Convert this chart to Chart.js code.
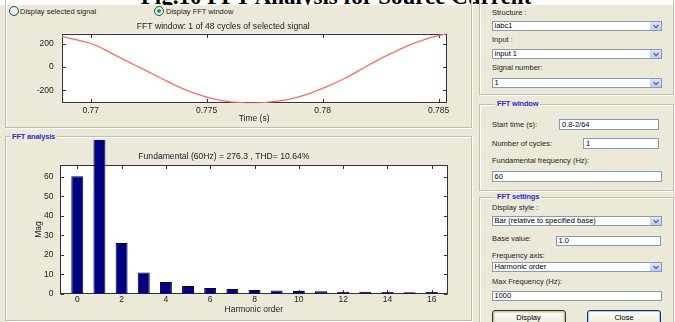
<!DOCTYPE html>
<html>
<head>
<meta charset="utf-8">
<title>FFT Analysis</title>
<script src="https://cdn.jsdelivr.net/npm/chart.js@4.4.0/dist/chart.umd.min.js"></script>
<style>
  html, body { margin: 0; padding: 0; }
  body {
    width: 675px; height: 322px; overflow: hidden; position: relative;
    background: #ece9d8; font-family: 'Liberation Sans', Arial, sans-serif;
  }
  #cap { position: absolute; left: 0; top: 0; width: 675px; height: 4.5px; background: #fff; overflow: hidden; }
  #cap span {
    position: absolute; left: 0; width: 672px; top: -14.8px; text-align: center;
    font: bold 23px/23px 'Liberation Serif', 'Times New Roman', serif; color: #000;
  }
  .grp {
    position: absolute; box-sizing: border-box;
    border: 1px solid #c2bfae; box-shadow: inset 1px 1px 0 #fff, 1px 1px 0 #fff;
  }
  .gt {
    position: absolute; font-size: 7.5px; line-height: 9px; color: #3030c8;
    background: #ece9d8; padding: 0 2px; white-space: nowrap; font-weight: bold; letter-spacing: -0.2px;
  }
  .t { position: absolute; font-size: 7.5px; line-height: 9px; color: #1e1e1e; white-space: nowrap; }
  .box {
    position: absolute; box-sizing: border-box; background: #fff; border: 1px solid #7f9db9;
    font-size: 7.5px; color: #000; padding-left: 2px; white-space: nowrap; overflow: hidden;
  }
  .arr {
    position: absolute; right: 0; top: 0; bottom: 0; width: 10px;
    background: linear-gradient(#dde7fd, #b9cdf6); border-left: 1px solid #c9d6f3;
  }
  .arr svg { position: absolute; left: 2px; top: 2px; }
  .radio {
    position: absolute; width: 8px; height: 8px; border-radius: 50%;
    border: 1px solid #1c5180; background: radial-gradient(#ffffff, #dcdcd4);
  }
  .radio.on::after {
    content: ''; position: absolute; left: 2px; top: 2px; width: 4px; height: 4px;
    border-radius: 50%; background: #21a121;
  }
  .btn {
    position: absolute; box-sizing: border-box; border: 1px solid #003c74; border-radius: 3px;
    background: linear-gradient(#fefefe, #ece9d8); font-size: 7.5px; color: #000; text-align: center;
  }
  canvas { position: absolute; left: 0; }
</style>
</head>
<body>

<div id="cap"><span>Fig.10 FFT Analysis for Source Current</span></div>

<!-- left: signal panel -->
<div class="grp" style="left:5px; top:-6px; width:467px; height:134px;"></div>
<div class="radio" style="left:9px; top:6px;"></div>
<div class="t" style="left:20px; top:6.5px;">Display selected signal</div>
<div class="radio on" style="left:154px; top:6px;"></div>
<div class="t" style="left:166px; top:6.5px;">Display FFT window</div>

<!-- left: FFT analysis panel -->
<div class="grp" style="left:5px; top:136px; width:467px; height:185px;"></div>
<div class="gt" style="left:10px; top:131.5px;">FFT analysis</div>

<!-- right: signal selection -->
<div class="grp" style="left:479px; top:-10px; width:195px; height:105px;"></div>
<div class="t" style="left:492px; top:7.8px;">Structure :</div>
<div class="box" style="left:491.5px; top:21px; width:170px; height:10px; line-height:8px;">iabc1<div class="arr"><svg width="6" height="5"><polyline points="0.5,1 3,3.6 5.5,1" fill="none" stroke="#4d6185" stroke-width="1.2"/></svg></div></div>
<div class="t" style="left:492px; top:34.5px;">Input :</div>
<div class="box" style="left:491.5px; top:49.3px; width:170px; height:10px; line-height:8px;">input 1<div class="arr"><svg width="6" height="5"><polyline points="0.5,1 3,3.6 5.5,1" fill="none" stroke="#4d6185" stroke-width="1.2"/></svg></div></div>
<div class="t" style="left:492px; top:63.2px;">Signal number:</div>
<div class="box" style="left:491.5px; top:77.7px; width:170px; height:10px; line-height:8px;">1<div class="arr"><svg width="6" height="5"><polyline points="0.5,1 3,3.6 5.5,1" fill="none" stroke="#4d6185" stroke-width="1.2"/></svg></div></div>

<!-- right: FFT window -->
<div class="grp" style="left:479px; top:103.5px; width:195px; height:87px;"></div>
<div class="gt" style="left:495px; top:99px;">FFT window</div>
<div class="t" style="left:492px; top:119.5px;">Start time (s):</div>
<div class="box" style="left:559px; top:119px; width:100px; height:11px; line-height:9px;">0.8-2/64</div>
<div class="t" style="left:492px; top:138.5px;">Number of cycles:</div>
<div class="box" style="left:583px; top:138px; width:76px; height:11px; line-height:9px;">1</div>
<div class="t" style="left:492px; top:155.5px;">Fundamental frequency (Hz):</div>
<div class="box" style="left:491.5px; top:171px; width:170px; height:11px; line-height:9px;">60</div>

<!-- right: FFT settings -->
<div class="grp" style="left:479px; top:196.5px; width:195px; height:140px;"></div>
<div class="gt" style="left:495px; top:192px;">FFT settings</div>
<div class="t" style="left:492px; top:202.8px;">Display style :</div>
<div class="box" style="left:491.5px; top:215.7px; width:170px; height:10px; line-height:8px;">Bar (relative to specified base)<div class="arr"><svg width="6" height="5"><polyline points="0.5,1 3,3.6 5.5,1" fill="none" stroke="#4d6185" stroke-width="1.2"/></svg></div></div>
<div class="t" style="left:492px; top:233.5px;">Base value:</div>
<div class="box" style="left:555.5px; top:235.5px; width:105px; height:10.5px; line-height:8.5px;">1.0</div>
<div class="t" style="left:492px; top:250.5px;">Frequency axis:</div>
<div class="box" style="left:491.5px; top:262.3px; width:170px; height:10px; line-height:8px;">Harmonic order<div class="arr"><svg width="6" height="5"><polyline points="0.5,1 3,3.6 5.5,1" fill="none" stroke="#4d6185" stroke-width="1.2"/></svg></div></div>
<div class="t" style="left:492px; top:277.2px;">Max Frequency (Hz):</div>
<div class="box" style="left:491.5px; top:290.7px; width:170px; height:10px; line-height:8px;">1000</div>
<div class="btn" style="left:491.5px; top:310px; width:74px; height:15px; line-height:13px; box-shadow: inset 0 0 0 1.5px #f0c060;">Display</div>
<div class="btn" style="left:587px; top:310px; width:74px; height:15px; line-height:13px; box-shadow: inset 0 0 0 1px #b0c6ee;">Close</div>

<canvas id="wave" width="472" height="110" style="top:18px;"></canvas>
<canvas id="spectrum" width="472" height="178" style="top:140px;"></canvas>

<script>
// Time window samples (s) and current (A) over one fundamental cycle
const timeSamples = [
  0.76875, 0.77014, 0.77086, 0.77158, 0.77230, 0.77302, 0.77374, 0.77446,
  0.77517, 0.77589, 0.77661, 0.77704, 0.77805, 0.77877, 0.77948, 0.78020,
  0.78092, 0.78164, 0.78236, 0.78307, 0.78379, 0.78451, 0.78530
];
const currentSamples = [
  262, 192, 121, 48, -23, -95, -167, -224,
  -267, -296, -308, -310, -293, -267, -224, -167,
  -101, -23, 57, 126, 192, 244, 285
];
const timeTicks = [0.77, 0.775, 0.78, 0.785];
const timeTickLabels = ['0.77', '0.775', '0.78', '0.785'];
const currentTicks = [-200, 0, 200];
const currentTickLabels = ['-200', '0', '200'];

// Harmonic spectrum (magnitude relative to base 1.0)
const harmonicOrders = [0, 1, 2, 3, 4, 5, 6, 7, 8, 9, 10, 11, 12, 13, 14, 15, 16];
const harmonicMag = [60.3, 276.3, 26.1, 10.9, 6.0, 3.9, 2.9, 2.4, 1.9, 1.6, 1.4, 1.2, 1.05, 1.0, 0.9, 0.75, 0.85];
const harmonicTicks = [0, 2, 4, 6, 8, 10, 12, 14, 16];
const magTicks = [0, 10, 20, 30, 40, 50, 60];

const FONT = "'Liberation Sans', Arial, sans-serif";
const TXT = '#222';

// White plot area, axes box and inward tick marks on all four sides
const axesFrame = {
  id: 'axesFrame',
  beforeDraw(chart) {
    const { ctx, chartArea: a } = chart;
    ctx.save();
    ctx.fillStyle = '#fff';
    ctx.fillRect(a.left, a.top, a.right - a.left, a.bottom - a.top);
    ctx.restore();
  },
  beforeDatasetsDraw(chart) {
    const { ctx, chartArea: a, scales: { x, y } } = chart;
    const L = Math.round(a.left) + 0.5, R = Math.round(a.right) - 0.5;
    const T = Math.round(a.top) + 0.5, B = Math.round(a.bottom) - 0.5;
    const len = 3.5;
    ctx.save();
    ctx.strokeStyle = '#333';
    ctx.lineWidth = 1;
    ctx.strokeRect(L, T, R - L, B - T);
    ctx.beginPath();
    x.ticks.forEach(t => {
      const px = Math.round(x.getPixelForValue(t.value)) + 0.5;
      ctx.moveTo(px, B); ctx.lineTo(px, B - len);
      ctx.moveTo(px, T); ctx.lineTo(px, T + len);
    });
    y.ticks.forEach(t => {
      const py = Math.round(y.getPixelForValue(t.value)) + 0.5;
      ctx.moveTo(L, py); ctx.lineTo(L + len, py);
      ctx.moveTo(R, py); ctx.lineTo(R - len, py);
    });
    ctx.stroke();
    ctx.restore();
  }
};

const common = {
  responsive: false,
  animation: false,
  devicePixelRatio: 1,
  events: []
};
const noGrid = { display: false, drawTicks: false, tickLength: 0 };

new Chart(document.getElementById('wave'), {
  type: 'line',
  data: {
    datasets: [{
      data: timeSamples.map((t, i) => ({ x: t, y: currentSamples[i] })),
      borderColor: '#ff6a6a',
      borderWidth: 1.3,
      pointRadius: 0,
      cubicInterpolationMode: 'monotone',
      fill: false
    }]
  },
  options: {
    ...common,
    layout: { padding: { left: 0, right: 25.5, top: 0, bottom: 0 } },
    plugins: {
      legend: { display: false },
      tooltip: { enabled: false },
      title: {
        display: true,
        text: 'FFT window: 1 of 48 cycles of selected signal',
        color: TXT,
        font: { family: FONT, size: 8.6, weight: 'normal', lineHeight: 1.2 },
        padding: { top: 3, bottom: 2.2 }
      }
    },
    scales: {
      x: {
        type: 'linear', min: 0.76875, max: 0.78534,
        grid: noGrid, border: { display: false },
        afterBuildTicks: s => { s.ticks = timeTicks.map(v => ({ value: v })); },
        afterFit: s => { s.height = 24.7; },
        ticks: {
          autoSkip: false, maxRotation: 0, padding: 2.3, color: TXT,
          font: { family: FONT, size: 8.5, lineHeight: 1.2 },
          callback: (v, i) => timeTickLabels[i]
        },
        title: {
          display: true, text: 'Time (s)', color: TXT,
          font: { family: FONT, size: 8.5, lineHeight: 1.2 },
          padding: { top: 0, bottom: 4.6 }
        }
      },
      y: {
        min: -312, max: 287,
        grid: noGrid, border: { display: false },
        afterBuildTicks: s => { s.ticks = currentTicks.map(v => ({ value: v })); },
        afterFit: s => { s.width = 61.7; },
        ticks: {
          autoSkip: false, padding: 8, color: TXT,
          font: { family: FONT, size: 8.5, lineHeight: 1.2 },
          callback: (v, i) => currentTickLabels[i]
        }
      }
    }
  },
  plugins: [axesFrame]
});

new Chart(document.getElementById('spectrum'), {
  type: 'bar',
  data: {
    datasets: [{
      data: harmonicOrders.map((h, i) => ({ x: h, y: harmonicMag[i] })),
      backgroundColor: '#000080',
      borderColor: '#00002a',
      borderWidth: 1,
      categoryPercentage: 1,
      barPercentage: 0.54,
      clip: false
    }]
  },
  options: {
    ...common,
    layout: { padding: { left: 0, right: 24.3, top: 0, bottom: 0 } },
    plugins: {
      legend: { display: false },
      tooltip: { enabled: false },
      title: {
        display: true,
        text: 'Fundamental (60Hz) = 276.3 , THD= 10.64%',
        color: TXT,
        font: { family: FONT, size: 8.6, weight: 'normal', lineHeight: 1.2 },
        padding: { top: 11.9, bottom: 3.0 }
      }
    },
    scales: {
      x: {
        type: 'linear', min: -0.78, max: 16.72, offset: false,
        grid: noGrid, border: { display: false },
        afterBuildTicks: s => { s.ticks = harmonicTicks.map(v => ({ value: v })); },
        afterFit: s => { s.height = 24.3; },
        ticks: {
          autoSkip: false, maxRotation: 0, padding: 1.2, color: TXT,
          font: { family: FONT, size: 8.5, lineHeight: 1.2 },
          callback: (v, i) => String(harmonicTicks[i])
        },
        title: {
          display: true, text: 'Harmonic order', color: TXT,
          font: { family: FONT, size: 8.5, lineHeight: 1.2 },
          padding: { top: 0, bottom: 3.2 }
        }
      },
      y: {
        min: 0, max: 66,
        grid: noGrid, border: { display: false },
        afterBuildTicks: s => { s.ticks = magTicks.map(v => ({ value: v })); },
        afterFit: s => { s.width = 60; },
        ticks: {
          autoSkip: false, padding: 6.5, color: TXT,
          font: { family: FONT, size: 8.5, lineHeight: 1.2 },
          callback: (v, i) => String(magTicks[i])
        },
        title: {
          display: true, text: 'Mag', color: TXT,
          font: { family: FONT, size: 8.5, lineHeight: 1.2 },
          padding: { top: 33.2, bottom: 0 }
        }
      }
    }
  },
  plugins: [axesFrame]
});
</script>
</body>
</html>
